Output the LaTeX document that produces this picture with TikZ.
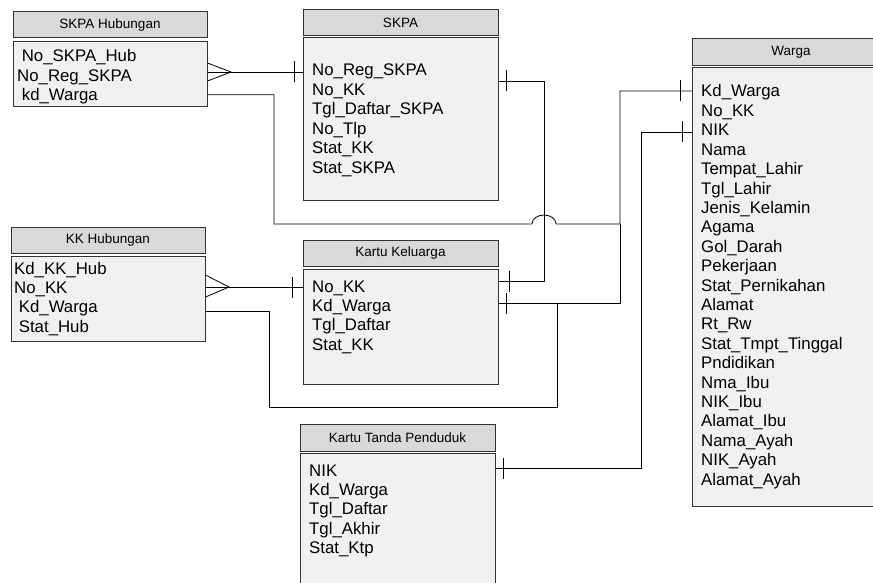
\documentclass[tikz,border=0pt]{standalone}
\usepackage{fontspec}
\setmainfont{Liberation Sans}
\usetikzlibrary{decorations.markings}
\definecolor{headgray}{RGB}{217,217,217}
\definecolor{bodygray}{RGB}{240,240,240}

\begin{document}
\begin{tikzpicture}[x=1pt,y=-1pt]
\tikzstyle{head}=[draw=black!80, fill=headgray, line width=1pt, minimum width=195pt, minimum height=26pt, inner sep=0pt, font=\fontsize{13.5}{16}\selectfont]
\tikzstyle{body}=[draw=black!80, fill=bodygray, line width=1pt, minimum width=195pt, inner sep=0pt]
\tikzstyle{field}=[anchor=west, inner sep=0pt, text height=12pt, text depth=0pt, font=\fontsize{16.8}{19}\selectfont]
\tikzstyle{rel}=[line width=0.8pt]
\tikzstyle{one at}=[postaction={decorate, decoration={markings, mark=at position #1 with {\draw[line width=0.8pt] (0,-10.5pt) -- (0,10.5pt);}}}]
    \useasboundingbox (0,0) rectangle (873,583);
    \clip (0,0) rectangle (873,583);
    % SKPA Hubungan
    \node[head, minimum width=194pt] (skpahubh) at (110,25) {SKPA Hubungan};
    \node[body, minimum width=194pt, minimum height=65pt] (skpahub) at (110,74.5) {};
    \foreach \f [count=\i] in {\ No\_SKPA\_Hub, No\_Reg\_SKPA, \ kd\_Warga}
        \node[field] (skpahub\i) at (17,{56+19.4*(\i-1)}) {\f};
    % SKPA
    \node[head] (skpah) at (400.5,23) {SKPA};
    \node[body, minimum height=162pt] (skpa) at (400.5,119) {};
    \foreach \f [count=\i] in {No\_Reg\_SKPA, No\_KK, Tgl\_Daftar\_SKPA, No\_Tlp, Stat\_KK, Stat\_SKPA}
        \node[field] (skpa\i) at (312,{70+19.4*(\i-1)}) {\f};
    % KK Hubungan
    \node[head, minimum width=194pt] (kkhubh) at (108,240) {KK Hubungan};
    \node[body, minimum width=194pt, minimum height=85pt] (kkhub) at (108,298.5) {};
    \foreach \f [count=\i] in {Kd\_KK\_Hub, No\_KK, \ Kd\_Warga, \ Stat\_Hub}
        \node[field] (kkhub\i) at (14,{268+19.4*(\i-1)}) {\f};
    % Kartu Keluarga
    \node[head] (kkh) at (400.5,253) {Kartu Keluarga};
    \node[body, minimum height=115pt] (kk) at (400.5,326.5) {};
    \foreach \f [count=\i] in {No\_KK, Kd\_Warga, Tgl\_Daftar, Stat\_KK}
        \node[field] (kk\i) at (312,{286+19.4*(\i-1)}) {\f};
    % Kartu Tanda Penduduk
    \node[head, minimum height=27pt] (ktph) at (397.5,437.5) {Kartu Tanda Penduduk};
    \node[body, minimum height=147pt] (ktp) at (397.5,526.5) {};
    \foreach \f [count=\i] in {NIK, Kd\_Warga, Tgl\_Daftar, Tgl\_Akhir, Stat\_Ktp}
        \node[field] (ktp\i) at (309,{470+19.4*(\i-1)}) {\f};
    % Warga
    \node[head, minimum width=198pt, minimum height=27pt] (wargah) at (791,52.5) {Warga};
    \node[body, minimum width=198pt, minimum height=438pt] (warga) at (791,287) {};
    \foreach \f [count=\i] in {Kd\_Warga, No\_KK, NIK, Nama, Tempat\_Lahir, Tgl\_Lahir, Jenis\_Kelamin, Agama, Gol\_Darah, Pekerjaan, Stat\_Pernikahan, Alamat, Rt\_Rw, Stat\_Tmpt\_Tinggal, Pndidikan, Nma\_Ibu, NIK\_Ibu, Alamat\_Ibu, Nama\_Ayah, NIK\_Ayah, Alamat\_Ayah}
        \node[field] (warga\i) at (701,{91+19.4*(\i-1)}) {\f};
    % relations
    \draw[rel] (skpahub.east |- 0,63) -- (231,72) -- (skpahub.east |- 0,81);
    \draw[rel, one at=-8pt] (skpahub.east |- 0,72) -- (skpa.west |- 0,72);
    \draw[rel, one at=-11pt] (skpahub.east |- skpahub3) -| (274,224) -- (532,224)
        arc[start angle=180, end angle=360, x radius=12, y radius=9] -- (620,224) |- (warga.west |- 0,91);
    \draw[rel, one at=8pt, one at=-11pt] (skpa.east |- 0,81) -| (544,281) -- (kk.east |- 0,281);
    \draw[rel] (kkhub.east |- 0,275) -- (229,287) -- (kkhub.east |- 0,297);
    \draw[rel, one at=-10pt] (kkhub.east |- 0,287) -- (kk.west |- 0,287);
    \draw[rel, one at=8pt] (kk.east |- 0,303) -| (620,224);
    \draw[rel] (kkhub.east |- 0,311) -| (269,407) -| (557,303);
    \draw[rel, one at=8pt, one at=-9pt] (ktp.east |- 0,468) -| (641,132) -- (warga.west |- 0,132);
\end{tikzpicture}
\end{document}
